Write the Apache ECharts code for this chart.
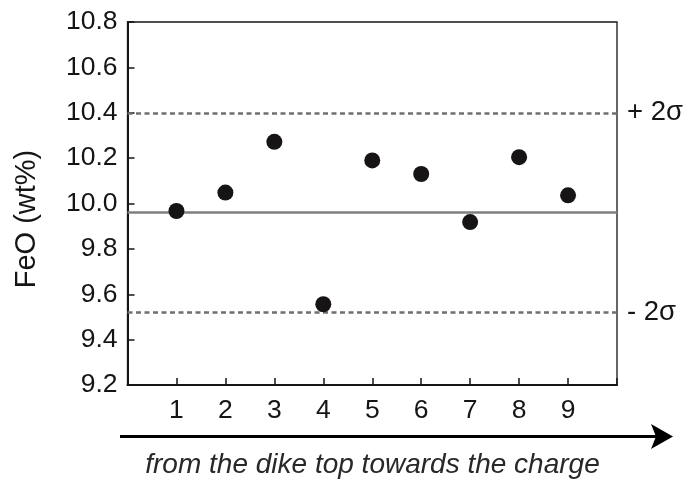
<!DOCTYPE html>
<html>
<head>
<meta charset="utf-8">
<script src="https://cdn.jsdelivr.net/npm/echarts@6/dist/echarts.min.js"></script>
<style>
html,body{margin:0;padding:0;background:#fff;}
#chart{width:693px;height:485px;}
</style>
</head>
<body>
<div id="chart"></div>
<script>
// Data
var positions = [1, 2, 3, 4, 5, 6, 7, 8, 9];
var feoValues = [9.967, 10.048, 10.272, 9.556, 10.19, 10.13, 9.918, 10.204, 10.036];
var meanValue = 9.957;
var plus2Sigma = 10.403;
var minus2Sigma = 9.521;
var sigmaLabels = ['+ 2σ', '- 2σ'];
var yTickLabels = ['9.2', '9.4', '9.6', '9.8', '10.0', '10.2', '10.4', '10.6', '10.8'];
var yAxisTitle = 'FeO (wt%)';
var xAxisCaption = 'from the dike top towards the charge';

var FONT = '"Liberation Sans", Arial, Helvetica, sans-serif';
var INK = '#161414';

var chart = echarts.init(document.getElementById('chart'), null, {renderer: 'canvas'});

var points = positions.map(function (p, i) { return [p, feoValues[i]]; });

var option = {
  animation: false,
  backgroundColor: '#ffffff',
  grid: {
    left: 127.5, top: 22, right: 76, bottom: 100,
    show: true, borderColor: INK, borderWidth: 1.3, backgroundColor: 'transparent'
  },
  xAxis: {
    type: 'value', min: 0, max: 10, interval: 1,
    axisLine: {show: true, onZero: false, lineStyle: {color: INK, width: 2}},
    axisTick: {show: true, inside: true, length: 7, lineStyle: {color: INK, width: 1.5}},
    axisLabel: {
      fontFamily: FONT, fontSize: 26.5, color: INK, margin: 12,
      formatter: function (v) { return positions.indexOf(v) >= 0 ? String(v) : ''; }
    },
    splitLine: {show: false}
  },
  yAxis: {
    type: 'value', min: 9.2, max: 10.8, interval: 0.2,
    axisLine: {show: true, onZero: false, lineStyle: {color: INK, width: 2}},
    axisTick: {show: true, inside: true, length: 7, lineStyle: {color: INK, width: 1.5}},
    axisLabel: {
      fontFamily: FONT, fontSize: 26.5, color: INK, margin: 10,
      formatter: function (v) {
        var idx = Math.round((v - 9.2) / 0.2);
        return yTickLabels[idx] !== undefined ? yTickLabels[idx] : '';
      }
    },
    splitLine: {show: false}
  },
  series: [{
    type: 'scatter',
    data: points,
    symbol: 'circle',
    symbolSize: 16,
    itemStyle: {color: INK, opacity: 1},
    z: 5,
    markLine: {
      silent: true,
      symbol: ['none', 'none'],
      z: 3,
      data: [
        {yAxis: meanValue, lineStyle: {color: '#7f7f7f', width: 2.5, type: 'solid', opacity: 1}, label: {show: false}},
        {yAxis: plus2Sigma, lineStyle: {color: '#6f6f6f', width: 2.5, type: [5, 3.5], opacity: 1},
         label: {show: true, position: 'end', distance: 10, formatter: sigmaLabels[0],
                 fontFamily: FONT, fontSize: 27.5, color: INK}},
        {yAxis: minus2Sigma, lineStyle: {color: '#6f6f6f', width: 2.5, type: [5, 3.5], opacity: 1},
         label: {show: true, position: 'end', distance: 10, formatter: sigmaLabels[1],
                 fontFamily: FONT, fontSize: 27.5, color: INK}}
      ]
    }
  }],
  graphic: [
    {
      type: 'text',
      x: 27, y: 219, rotation: Math.PI / 2,
      style: {
        text: yAxisTitle, fontFamily: FONT, fontSize: 29,
        fill: INK, align: 'center', verticalAlign: 'middle'
      }
    },
    {
      type: 'line',
      shape: {x1: 120, y1: 436.5, x2: 658, y2: 436.5},
      style: {stroke: '#000', lineWidth: 3}
    },
    {
      type: 'polygon',
      shape: {points: [[673, 436.5], [651, 424], [656, 436.5], [651, 449]]},
      style: {fill: '#000'}
    },
    {
      type: 'text',
      x: 372.5, y: 465,
      style: {
        text: xAxisCaption, fontFamily: FONT, fontSize: 28, fontStyle: 'italic',
        fill: '#2a2727', align: 'center', verticalAlign: 'middle'
      }
    }
  ]
};

chart.setOption(option);
</script>
</body>
</html>
